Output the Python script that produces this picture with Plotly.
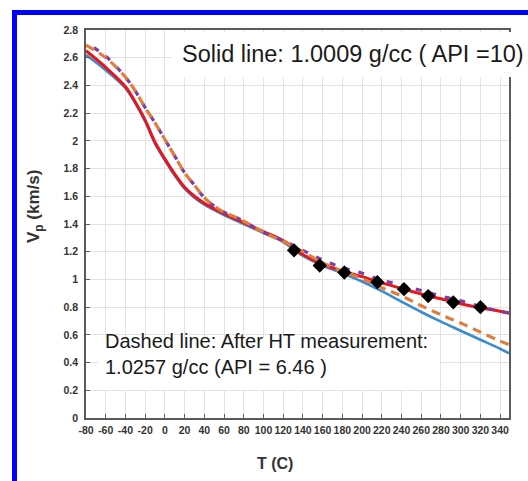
import plotly.graph_objects as go

# ---------------- data ----------------
red_T = [-80, -60, -40, -30, -20, -10, 0, 10, 20, 30, 40, 60, 80, 100, 120, 140, 160, 180, 200, 220, 240, 260, 280, 300, 320, 340, 349]
red_V = [2.65, 2.53, 2.39, 2.28, 2.15, 1.99, 1.87, 1.76, 1.665, 1.60, 1.55, 1.475, 1.41, 1.345, 1.28, 1.18, 1.11, 1.06, 1.02, 0.975, 0.935, 0.895, 0.86, 0.825, 0.795, 0.77, 0.755]

blue_T = [-80, -60, -40, -30, -20, -10, 0, 10, 20, 30, 40, 60, 80, 100, 120, 140, 160, 180, 200, 220, 240, 260, 280, 300, 320, 340, 349]
blue_V = [2.62, 2.51, 2.38, 2.27, 2.14, 1.98, 1.86, 1.75, 1.655, 1.59, 1.54, 1.465, 1.40, 1.335, 1.27, 1.17, 1.10, 1.045, 0.985, 0.915, 0.84, 0.765, 0.695, 0.63, 0.565, 0.50, 0.467]

orange_T = [-80, -60, -40, -30, -20, -10, 0, 10, 20, 30, 40, 50, 60, 70, 80, 100, 120, 140, 160, 180, 200, 220, 240, 260, 280, 300, 320, 340, 349]
orange_V = [2.69, 2.60, 2.46, 2.36, 2.24, 2.13, 2.01, 1.89, 1.77, 1.68, 1.59, 1.53, 1.485, 1.455, 1.42, 1.34, 1.275, 1.20, 1.12, 1.06, 1.005, 0.94, 0.88, 0.81, 0.745, 0.685, 0.62, 0.555, 0.53]

purple_T = [-80, -60, -40, -30, -20, -10, 0, 10, 20, 30, 40, 50, 60, 70, 80, 100, 120, 140, 160, 180, 200, 220, 240, 260, 280, 300, 320, 340, 349]
purple_V = [2.71, 2.61, 2.46, 2.36, 2.24, 2.13, 2.01, 1.89, 1.77, 1.68, 1.59, 1.53, 1.485, 1.455, 1.42, 1.34, 1.28, 1.21, 1.14, 1.085, 1.045, 0.995, 0.96, 0.92, 0.88, 0.845, 0.805, 0.77, 0.76]

meas_T = [131, 157, 182, 215.5, 242.5, 267, 292.5, 320]
meas_V = [1.21, 1.10, 1.05, 0.98, 0.93, 0.88, 0.835, 0.80]

x_ticks = list(range(-80, 341, 20))
x_tick_labels = [str(v) for v in x_ticks]
y_ticks = [0, 0.2, 0.4, 0.6, 0.8, 1, 1.2, 1.4, 1.6, 1.8, 2, 2.2, 2.4, 2.6, 2.8]
y_tick_labels = ["0", "0.2", "0.4", "0.6", "0.8", "1", "1.2", "1.4", "1.6", "1.8", "2", "2.2", "2.4", "2.6", "2.8"]

title_solid = "Solid line: 1.0009 g/cc ( API =10)"
title_dashed = "Dashed line: After HT measurement:<br>1.0257 g/cc (API = 6.46 )"

# ---------------- layout geometry ----------------
W, H = 528, 481
L, R, T, B = 86, 19, 30, 63
PW, PH = W - L - R, H - T - B


def px(x):
    return (x - L) / PW


def py(y):
    return (H - B - y) / PH


SANS = "Liberation Sans, Arial, sans-serif"

fig = go.Figure()
fig.add_trace(go.Scatter(x=blue_T, y=blue_V, mode="lines", line=dict(color="#3a8bd0", width=2.6, shape="spline"), showlegend=False))
fig.add_trace(go.Scatter(x=red_T, y=red_V, mode="lines", line=dict(color="#e5161d", width=3, shape="spline"), showlegend=False))
fig.add_trace(go.Scatter(x=purple_T, y=purple_V, mode="lines", line=dict(color="#7b3fa3", width=3.2, dash="0px,9px,6px,0px", shape="spline"), showlegend=False))
fig.add_trace(go.Scatter(x=orange_T, y=orange_V, mode="lines", line=dict(color="#e07d3c", width=3.2, dash="9px,6px", shape="spline"), showlegend=False))
fig.add_trace(go.Scatter(x=meas_T, y=meas_V, mode="markers", marker=dict(symbol="diamond", size=11, color="black"), showlegend=False))

axis_common = dict(
    showgrid=True, gridcolor="#e2e2e2", gridwidth=1,
    showline=True, linecolor="#5a5a5a", linewidth=1.5, mirror=True,
    ticks="inside", ticklen=4, tickcolor="#5a5a5a",
    tickfont=dict(family=SANS, size=10.5, color="#333333", weight="bold"),
    zeroline=False, fixedrange=True, tickangle=0,
)

fig.update_xaxes(range=[-80, 349], tickmode="array", tickvals=x_ticks, ticktext=x_tick_labels, ticklabelstandoff=2, **axis_common)
fig.update_yaxes(range=[0, 2.8], tickmode="array", tickvals=y_ticks, ticktext=y_tick_labels, ticklabelstandoff=4, **axis_common)

shapes = [
    # white boxes behind text
    dict(type="rect", xref="paper", yref="paper", x0=px(172), x1=px(535), y0=py(77), y1=py(32),
         fillcolor="white", line=dict(width=0), layer="above"),
    dict(type="rect", xref="paper", yref="paper", x0=px(98), x1=px(440), y0=py(390), y1=py(338),
         fillcolor="white", line=dict(width=0), layer="above"),
    # blue outer frame
    dict(type="rect", xref="paper", yref="paper", x0=px(14.5), x1=px(600), y0=py(560), y1=py(12.5),
         fillcolor="rgba(0,0,0,0)", line=dict(color="#0000ff", width=5), layer="above"),
]

annotations = [
    dict(text=title_solid, xref="paper", yref="paper", x=px(180), y=py(54), xanchor="left", yanchor="middle",
         showarrow=False, font=dict(family=SANS, size=23.5, color="#1a1a1a")),
    dict(text=title_dashed, xref="paper", yref="paper", x=px(103), y=py(354), xanchor="left", yanchor="middle",
         showarrow=False, align="left", font=dict(family=SANS, size=20, color="#1a1a1a")),
    dict(text="<b>T (C)</b>", xref="paper", yref="paper", x=px(275), y=py(463), xanchor="center", yanchor="middle",
         showarrow=False, font=dict(family=SANS, size=16, color="#333333")),
    dict(text="<b>V<sub>p</sub> (km/s)</b>", xref="paper", yref="paper", x=px(35), y=py(207), xanchor="center", yanchor="middle",
         textangle=-90, showarrow=False, font=dict(family=SANS, size=17, color="#333333")),
]

fig.update_layout(
    width=W, height=H, margin=dict(l=L, r=R, t=T, b=B),
    paper_bgcolor="white", plot_bgcolor="white",
    shapes=shapes, annotations=annotations, showlegend=False,
)

fig.write_html("out.html", config={"displayModeBar": False})
